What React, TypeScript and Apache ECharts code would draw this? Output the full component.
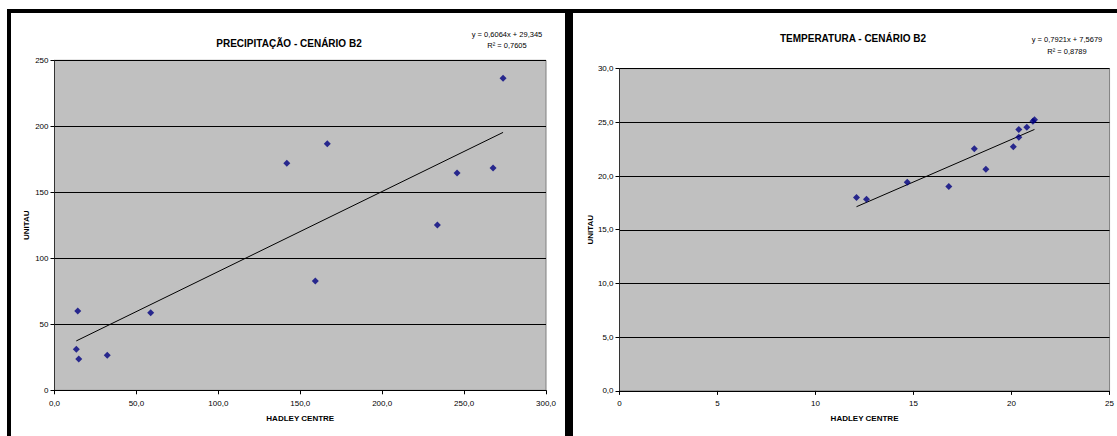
import React, { useEffect, useRef } from "react";
import * as echarts from "echarts";

// Precipitation scenario B2 (x: Hadley Centre, y: Unitau)
const precipX = [13.3, 14.2, 14.8, 32.2, 58.7, 141.8, 159.2, 166.5, 233.7, 245.7, 267.7, 273.8];
const precipY = [31.1, 60.1, 23.7, 26.5, 58.8, 172.0, 82.8, 186.8, 125.2, 164.6, 168.4, 236.4];
const precipTrend = [0.6064, 29.345]; // slope, intercept
const precipR2 = "0,7605";

// Temperature scenario B2
const tempX = [12.09, 12.6, 14.68, 16.8, 18.1, 18.69, 20.09, 20.37, 20.37, 20.78, 21.09, 21.17];
const tempY = [18.0, 17.85, 19.43, 19.02, 22.53, 20.64, 22.72, 24.33, 23.62, 24.55, 25.11, 25.23];
const tempTrend = [0.7921, 7.5679];
const tempR2 = "0,8789";

const titles = ["PRECIPITAÇÃO - CENÁRIO B2", "TEMPERATURA - CENÁRIO B2"];
const xName = "HADLEY CENTRE";
const yName = "UNITAU";

const FONT = "Liberation Sans, Arial, sans-serif";

const comma = (v: number, d: number) => v.toFixed(d).replace(".", ",");

function trendLine(xs: number[], coef: number[]) {
  const lo = Math.min(...xs);
  const hi = Math.max(...xs);
  return [
    [lo, coef[0] * lo + coef[1]],
    [hi, coef[0] * hi + coef[1]],
  ];
}

export default function App() {
  const ref = useRef<HTMLDivElement>(null);
  useEffect(() => {
    if (!ref.current) return;
    const chart = echarts.init(ref.current, undefined, { renderer: "svg" });
    const axisLabel = { fontFamily: FONT, fontSize: 8, color: "#000" };
    const nameStyle = { fontFamily: FONT, fontSize: 8, fontWeight: "bold" as const, color: "#000" };
    const xAxisBase = {
      type: "value" as const,
      name: xName,
      nameLocation: "middle" as const,
      nameTextStyle: nameStyle,
      axisLine: { show: true, lineStyle: { color: "#000", width: 1 } },
      axisTick: { show: true, length: 4, lineStyle: { color: "#000" } },
      splitLine: { show: false },
    };
    const yAxisBase = {
      type: "value" as const,
      name: yName,
      nameLocation: "middle" as const,
      nameTextStyle: nameStyle,
      axisLine: { show: true, lineStyle: { color: "#333", width: 1 } },
      axisTick: { show: true, length: 4, lineStyle: { color: "#000" } },
      splitLine: { show: true, lineStyle: { color: "#000", width: 1 } },
    };
    const eqText = (coef: number[], d: number) =>
      `y = ${comma(coef[0], 4)}x + ${comma(coef[1], d)}`;
    const eqStyle = {
      fontFamily: FONT,
      fontSize: 7.5,
      fill: "#000",
      align: "center" as const,
      verticalAlign: "middle" as const,
    };
    chart.setOption({
      animation: false,
      backgroundColor: "#fff",
      title: [
        {
          text: titles[0],
          left: 284,
          top: 33,
          textAlign: "center",
          textStyle: { fontFamily: FONT, fontSize: 10, fontWeight: "bold", color: "#000" },
        },
        {
          text: titles[1],
          left: 848,
          top: 28,
          textAlign: "center",
          textStyle: { fontFamily: FONT, fontSize: 10, fontWeight: "bold", color: "#000" },
        },
      ],
      grid: [
        {
          left: 54.5,
          top: 60.3,
          width: 491.5,
          height: 330,
          show: true,
          backgroundColor: "#C0C0C0",
          borderColor: "#808080",
          borderWidth: 1,
        },
        {
          left: 619.5,
          top: 68.6,
          width: 490.5,
          height: 322.3,
          show: true,
          backgroundColor: "#C0C0C0",
          borderColor: "#808080",
          borderWidth: 1,
        },
      ],
      xAxis: [
        {
          ...xAxisBase,
          gridIndex: 0,
          min: 0,
          max: 300,
          interval: 50,
          nameGap: 24,
          axisLabel: { ...axisLabel, margin: 9, formatter: (v: number) => comma(v, 1) },
        },
        {
          ...xAxisBase,
          gridIndex: 1,
          min: 0,
          max: 25,
          interval: 5,
          nameGap: 24,
          axisLabel: { ...axisLabel, margin: 9, formatter: (v: number) => String(v) },
        },
      ],
      yAxis: [
        {
          ...yAxisBase,
          gridIndex: 0,
          min: 0,
          max: 250,
          interval: 50,
          nameGap: 24,
          axisLabel: { ...axisLabel, margin: 6, formatter: (v: number) => String(v) },
        },
        {
          ...yAxisBase,
          gridIndex: 1,
          min: 0,
          max: 30,
          interval: 5,
          nameGap: 24,
          axisLabel: { ...axisLabel, margin: 6, formatter: (v: number) => comma(v, 1) },
        },
      ],
      series: [
        {
          type: "scatter",
          xAxisIndex: 0,
          yAxisIndex: 0,
          symbol: "diamond",
          symbolSize: 7,
          itemStyle: { color: "#000080" },
          data: precipX.map((x, i) => [x, precipY[i]]),
          z: 3,
        },
        {
          type: "line",
          xAxisIndex: 0,
          yAxisIndex: 0,
          showSymbol: false,
          symbol: "none",
          lineStyle: { color: "#000", width: 1 },
          data: trendLine(precipX, precipTrend),
          z: 2,
        },
        {
          type: "scatter",
          xAxisIndex: 1,
          yAxisIndex: 1,
          symbol: "diamond",
          symbolSize: 7,
          itemStyle: { color: "#000080" },
          data: tempX.map((x, i) => [x, tempY[i]]),
          z: 3,
        },
        {
          type: "line",
          xAxisIndex: 1,
          yAxisIndex: 1,
          showSymbol: false,
          symbol: "none",
          lineStyle: { color: "#000", width: 1 },
          data: trendLine(tempX, tempTrend),
          z: 2,
        },
      ],
      graphic: [
        { type: "rect", shape: { x: 7, y: 9, width: 1110, height: 4 }, style: { fill: "#000" }, z: 100 },
        { type: "rect", shape: { x: 7, y: 9, width: 4, height: 427 }, style: { fill: "#000" }, z: 100 },
        { type: "rect", shape: { x: 565, y: 9, width: 8, height: 427 }, style: { fill: "#000" }, z: 100 },
        { type: "text", x: 507, y: 34, style: { ...eqStyle, text: eqText(precipTrend, 3) } },
        { type: "text", x: 507, y: 45, style: { ...eqStyle, text: `R² = ${precipR2}` } },
        { type: "text", x: 1067, y: 39, style: { ...eqStyle, text: eqText(tempTrend, 4) } },
        { type: "text", x: 1067, y: 51, style: { ...eqStyle, text: `R² = ${tempR2}` } },
      ],
    });
    return () => chart.dispose();
  }, []);
  return (
    <div
      ref={ref}
      style={{ position: "fixed", left: 0, top: 0, width: 1117, height: 436, background: "#fff" }}
    />
  );
}
